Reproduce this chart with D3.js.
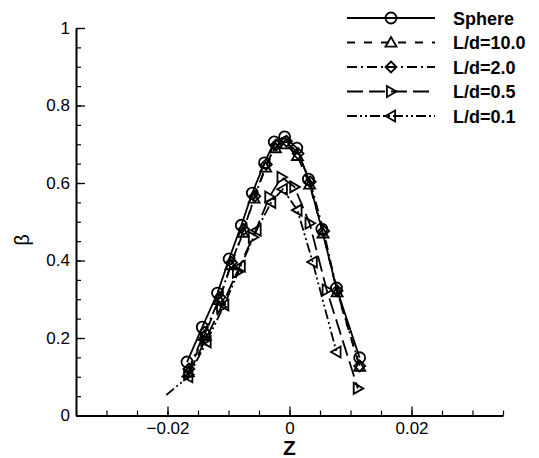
<!DOCTYPE html>
<html>
<head>
<meta charset="utf-8">
<script src="https://cdn.jsdelivr.net/npm/d3@7"></script>
<style>
  html, body { margin: 0; padding: 0; background: #fff; }
  svg { display: block; font-family: "Liberation Sans", Arial, sans-serif; }
</style>
</head>
<body>
<div id="chart"></div>
<script>
// Data
const zSphere = [-0.0168, -0.0143, -0.0118, -0.0099, -0.0079, -0.0061, -0.0041, -0.0025, -0.0008, 0.0012, 0.0031, 0.0053, 0.0077, 0.0115];
const betaSphere = [0.138, 0.228, 0.316, 0.404, 0.491, 0.574, 0.652, 0.706, 0.719, 0.690, 0.610, 0.481, 0.329, 0.149];

const zLd10 = [-0.0166, -0.0140, -0.0115, -0.0096, -0.0076, -0.0058, -0.0039, -0.0023, -0.0006, 0.0013, 0.0033, 0.0055, 0.0078, 0.0115];
const betaLd10 = [0.112, 0.205, 0.298, 0.388, 0.472, 0.560, 0.640, 0.690, 0.700, 0.670, 0.596, 0.470, 0.318, 0.126];

const zLd2 = [-0.0165, -0.0139, -0.0114, -0.0095, -0.0075, -0.0057, -0.0038, -0.0022, -0.0005, 0.0014, 0.0034, 0.0056, 0.0078, 0.0115];
const betaLd2 = [0.120, 0.215, 0.305, 0.395, 0.480, 0.566, 0.648, 0.698, 0.708, 0.676, 0.603, 0.476, 0.322, 0.128];

const zLd05 = [-0.0166, -0.0138, -0.0112, -0.0086, -0.0060, -0.0033, -0.0013, 0.0008, 0.0033, 0.0061, 0.0112];
const betaLd05 = [0.105, 0.195, 0.280, 0.370, 0.460, 0.564, 0.615, 0.590, 0.496, 0.324, 0.070];

const zLd01 = [-0.0202, -0.0166, -0.0136, -0.0107, -0.0080, -0.0054, -0.0030, -0.0011, 0.0013, 0.0038, 0.0077];
const betaLd01 = [0.053, 0.100, 0.190, 0.285, 0.385, 0.478, 0.550, 0.584, 0.530, 0.396, 0.164];

const seriesNames = ["Sphere", "L/d=10.0", "L/d=2.0", "L/d=0.5", "L/d=0.1"];
const seriesMarkers = ["circle", "triUp", "diamond", "triRight", "triLeft"];
const seriesDashes = [null, "8,9", "10,4,2,4", "16,6", "10,3,2,3,2,3"];
const markerSkip = [0, 0, 0, 0, 1]; // first point of L/d=0.1 carries no symbol

const xTicks = [-0.02, 0, 0.02];
const yTicks = [0, 0.2, 0.4, 0.6, 0.8, 1];

const series = [
  [zSphere, betaSphere],
  [zLd10, betaLd10],
  [zLd2, betaLd2],
  [zLd05, betaLd05],
  [zLd01, betaLd01]
].map(([zs, bs], i) => ({
  name: seriesNames[i],
  marker: seriesMarkers[i],
  dash: seriesDashes[i],
  skip: markerSkip[i],
  points: zs.map((z, j) => ({ z, b: bs[j] }))
}));

const W = 539, H = 458;
const margin = { top: 28, right: 36, bottom: 42.5, left: 76 };
const innerW = W - margin.left - margin.right;
const innerH = H - margin.top - margin.bottom;

const svg = d3.select("#chart").append("svg")
  .attr("width", W)
  .attr("height", H);

const g = svg.append("g").attr("transform", `translate(${margin.left},${margin.top})`);

const x = d3.scaleLinear().domain([-0.035, 0.035]).range([0, innerW]);
const y = d3.scaleLinear().domain([0, 1]).range([innerH, 0]);

// marker shapes, centred on 0,0
function markerPath(type) {
  const r = 5.5;
  switch (type) {
    case "circle":
      return `M${r},0A${r},${r} 0 1,1 ${-r},0A${r},${r} 0 1,1 ${r},0Z`;
    case "triUp":
      return `M0,${-r}L${r},${r * 0.75}L${-r},${r * 0.75}Z`;
    case "diamond":
      return `M0,${-r}L${r},0L0,${r}L${-r},0Z`;
    case "triRight":
      return `M${r},0L${-r * 0.75},${r}L${-r * 0.75},${-r}Z`;
    case "triLeft":
      return `M${-r},0L${r * 0.75},${-r}L${r * 0.75},${r}Z`;
  }
}

// axes: ticks point inward
function styleAxis(sel) {
  sel.select(".domain").attr("stroke", "#000").attr("stroke-width", 2);
  sel.selectAll(".tick line").attr("stroke", "#000").attr("stroke-width", 1.3);
  sel.selectAll("text").attr("fill", "#000").attr("font-size", 17);
}

g.append("g")
  .attr("transform", `translate(0,${innerH})`)
  .call(d3.axisBottom(x).tickValues(d3.range(-0.035, 0.0351, 0.005)).tickSizeInner(-5).tickSizeOuter(0).tickFormat(""))
  .call(sel => sel.select(".domain").remove())
  .call(sel => sel.selectAll(".tick line").attr("stroke", "#000").attr("stroke-width", 1.2));

g.append("g")
  .attr("transform", `translate(0,${innerH})`)
  .call(d3.axisBottom(x).tickValues(xTicks).tickSizeInner(-9).tickSizeOuter(0).tickPadding(6)
    .tickFormat(d => d === 0 ? "0" : d3.format(".2f")(d)))
  .call(styleAxis);

g.append("g")
  .call(d3.axisLeft(y).tickValues(d3.range(0, 1.001, 0.05)).tickSizeInner(-5).tickSizeOuter(0).tickFormat(""))
  .call(sel => sel.select(".domain").remove())
  .call(sel => sel.selectAll(".tick line").attr("stroke", "#000").attr("stroke-width", 1.2));

g.append("g")
  .call(d3.axisLeft(y).tickValues(yTicks).tickSizeInner(-9).tickSizeOuter(0).tickPadding(6)
    .tickFormat(d => d === 0 || d === 1 ? String(d) : d3.format(".1f")(d)))
  .call(styleAxis);

// axis titles
svg.append("text")
  .attr("x", margin.left + x(0))
  .attr("y", 455)
  .attr("text-anchor", "middle")
  .attr("font-size", 21)
  .attr("font-weight", "bold")
  .text("Z");

svg.append("text")
  .attr("transform", "translate(29,240) rotate(-90)")
  .attr("text-anchor", "middle")
  .attr("font-size", 20)
  .text("β");

// curves
const line = d3.line().x(d => x(d.z)).y(d => y(d.b));

const sg = g.selectAll(".series").data(series).enter().append("g").attr("class", "series");

sg.append("path")
  .attr("d", d => line(d.points))
  .attr("fill", "none")
  .attr("stroke", "#000")
  .attr("stroke-width", 1.8)
  .attr("stroke-dasharray", d => d.dash);

sg.each(function (s) {
  d3.select(this).selectAll(".mk")
    .data(s.points.slice(s.skip))
    .enter().append("path")
    .attr("class", "mk")
    .attr("transform", d => `translate(${x(d.z)},${y(d.b)})`)
    .attr("d", markerPath(s.marker))
    .attr("fill", "none")
    .attr("stroke", "#000")
    .attr("stroke-width", 1.8);
});

// legend
const legend = svg.append("g").attr("transform", "translate(347,18)");
const rows = legend.selectAll(".row").data(series).enter().append("g")
  .attr("class", "row")
  .attr("transform", (d, i) => `translate(0,${i * 24.5})`);

rows.append("line")
  .attr("x1", 0).attr("x2", 88)
  .attr("stroke", "#000")
  .attr("stroke-width", 1.8)
  .attr("stroke-dasharray", d => d.dash);

rows.append("path")
  .attr("transform", "translate(44,0)")
  .attr("d", d => markerPath(d.marker))
  .attr("fill", "none")
  .attr("stroke", "#000")
  .attr("stroke-width", 1.8);

rows.append("text")
  .attr("x", 106)
  .attr("y", 6.5)
  .attr("font-size", 18)
  .attr("font-weight", "bold")
  .text(d => d.name);
</script>
</body>
</html>
